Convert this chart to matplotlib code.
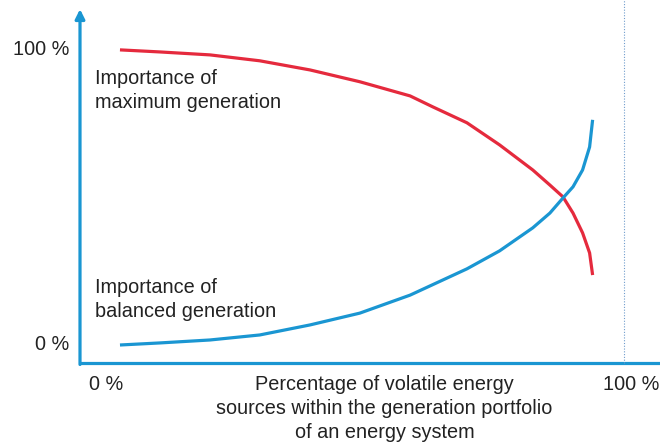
import matplotlib.pyplot as plt

plt.rcParams['font.family'] = ['Liberation Sans', 'DejaVu Sans']

# share of volatile sources (%) vs importance (%)
x_max_gen = [0, 7.95, 17.9, 27.8, 37.8, 47.7, 57.7, 62.2, 69.0, 75.5, 82.1, 85.5,
             88.1, 90.1, 92.0, 93.4, 94.0]
y_max_gen = [100, 99.3, 98.3, 96.3, 93.2, 89.2, 84.4, 80.7, 75.3, 67.8, 59.3, 54.2,
             50.2, 44.7, 38.0, 31.2, 23.7]

x_bal_gen = [0, 7.95, 17.9, 27.8, 37.8, 47.7, 57.7, 69.0, 75.5, 82.1, 85.5, 88.1,
             90.1, 92.0, 93.4, 94.0]
y_bal_gen = [0, 0.7, 1.7, 3.4, 6.8, 10.8, 16.9, 25.8, 31.9, 39.7, 44.7, 49.8,
             53.6, 59.3, 67.1, 76.3]

y_tick_labels = ['100 %', '0 %']
x_tick_labels = ['0 %', '100 %']
x_title = 'Percentage of volatile energy\nsources within the generation portfolio\nof an energy system'
label_max = 'Importance of\nmaximum generation'
label_bal = 'Importance of\nbalanced generation'

red = '#e52a3d'
blue = '#1a96d2'
txt = '#222222'

fig = plt.figure(figsize=(6.6, 4.48), dpi=100)
ax = fig.add_axes([80 / 660, 85 / 448, 580 / 660, 363 / 448])

x0, x1 = -7.95, 107.4
y0, y1 = -6.1, 116.9
ax.set_xlim(x0, x1)
ax.set_ylim(y0, y1)
ax.axis('off')

ax.plot(x_max_gen, y_max_gen, color=red, lw=2.3, solid_capstyle='butt',
        solid_joinstyle='round', clip_on=False)
ax.plot(x_bal_gen, y_bal_gen, color=blue, lw=2.3, solid_capstyle='butt',
        solid_joinstyle='round', clip_on=False)

# axes with arrow on y
ax.plot([x0, x1], [y0, y0], color=blue, lw=2.3, clip_on=False, solid_capstyle='butt')
ax.annotate('', xy=(x0, 113.8), xytext=(x0, y0 - 0.5),
            arrowprops=dict(arrowstyle='-|>', lw=2.3, color=blue, mutation_scale=14,
                            shrinkA=0, shrinkB=0), annotation_clip=False)

# 100 % marker line
ax.plot([100.2, 100.2], [y0, y1], color='#6f9ccc', lw=0.8, ls=(0, (1, 1.5)), clip_on=False)

fs = 14.3
ax.text(-10.0, 100, y_tick_labels[0], ha='right', va='center', fontsize=fs, color=txt)
ax.text(-10.0, 0, y_tick_labels[1], ha='right', va='center', fontsize=fs, color=txt)
ax.text(-2.8, -13.5, x_tick_labels[0], ha='center', va='center', fontsize=fs, color=txt)
ax.text(107.2, -13.5, x_tick_labels[1], ha='right', va='center', fontsize=fs, color=txt)
ax.text(52.6, -21.6, x_title, ha='center', va='center', fontsize=fs, color=txt,
        linespacing=1.34)

ax.text(-5.0, 86.1, label_max, ha='left', va='center', fontsize=fs, color=txt,
        linespacing=1.34)
ax.text(-5.0, 15.4, label_bal, ha='left', va='center', fontsize=fs, color=txt,
        linespacing=1.34)

fig.savefig('out.png', dpi=100)
